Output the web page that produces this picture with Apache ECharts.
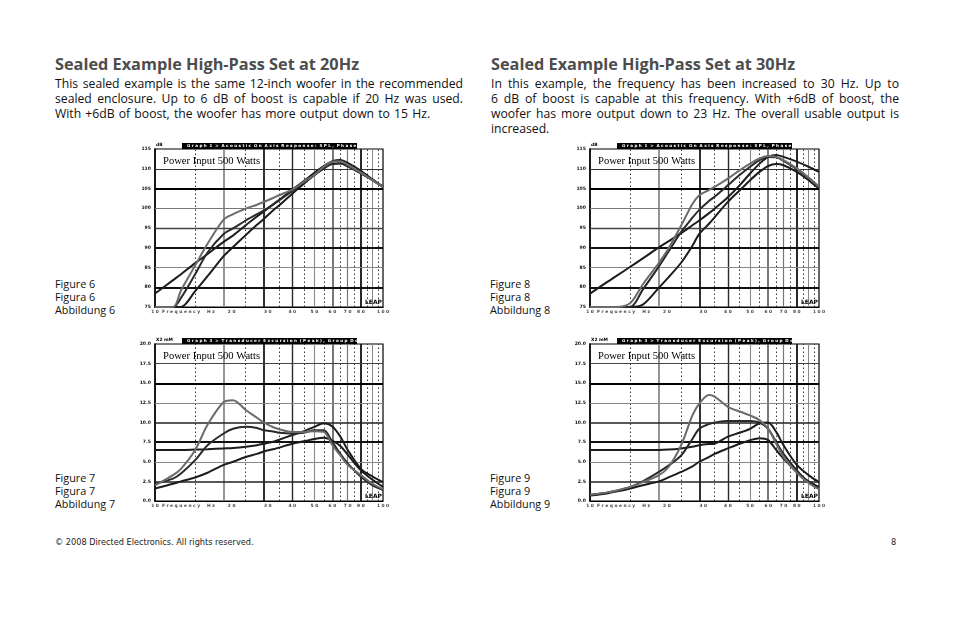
<!DOCTYPE html>
<html><head><meta charset="utf-8">
<script src="https://cdn.jsdelivr.net/npm/echarts@6/dist/echarts.min.js"></script>
<style>
body{margin:0;background:#fff;width:954px;height:618px;overflow:hidden;position:relative;font-family:"Open Sans",sans-serif;}
#chart{position:absolute;left:0;top:0;width:954px;height:618px;}
.h{position:absolute;font-weight:700;color:#4d4d4d;font-size:16.3px;line-height:18px;white-space:nowrap;}
.p{position:absolute;width:408px;font-size:12.2px;word-spacing:1px;line-height:15px;color:#111;}
.p div{text-align:justify;text-align-last:justify;white-space:nowrap;}
.p div.last{text-align:left;text-align-last:left;}
.f{position:absolute;font-size:10.8px;line-height:13px;color:#111;}
.foot{position:absolute;font-size:9.1px;color:#222;font-family:"DejaVu Sans Condensed","DejaVu Sans",sans-serif;}
</style></head>
<body>
<div class="h" style="left:55px;top:55px">Sealed Example High-Pass Set at 20Hz</div>
<div class="p" style="left:55px;top:76px">
<div>This sealed example is the same 12-inch woofer in the recommended</div>
<div>sealed enclosure. Up to 6 dB of boost is capable if 20 Hz was used.</div>
<div class="last">With +6dB of boost, the woofer has more output down to 15 Hz.</div>
</div>
<div class="h" style="left:491px;top:55px">Sealed Example High-Pass Set at 30Hz</div>
<div class="p" style="left:491px;top:76px">
<div>In this example, the frequency has been increased to 30 Hz. Up to</div>
<div>6 dB of boost is capable at this frequency. With +6dB of boost, the</div>
<div>woofer has more output down to 23 Hz. The overall usable output is</div>
<div class="last">increased.</div>
</div>
<div class="f" style="left:55px;top:277px">Figure 6<br>Figura 6<br>Abbildung 6</div>
<div class="f" style="left:55px;top:471px">Figure 7<br>Figura 7<br>Abbildung 7</div>
<div class="f" style="left:490px;top:277px">Figure 8<br>Figura 8<br>Abbildung 8</div>
<div class="f" style="left:490px;top:471px">Figure 9<br>Figura 9<br>Abbildung 9</div>
<div class="foot" style="left:55px;top:537px">© 2008 Directed Electronics. All rights reserved.</div>
<div class="foot" style="left:891px;top:537px">8</div>
<div id="chart"></div>
<script>
// ---------------- data ----------------
const freq = [10,12,13,15,17,20,22,25,28,30,33,35,40,45,50,55,60,65,70,80,90,100];

// Figure 6: SPL (dB), high-pass at 20 Hz
const spl20Gray  = [75,75,79.2,85.5,91,97.1,98.5,99.9,100.9,101.6,102.6,103.3,104.7,106.7,108.5,110.5,111.8,111.9,111,109,107.1,105.4];
const spl20Knee  = [75,75,77.3,83.3,88.8,93.5,94.9,96.9,98.5,99.4,100.9,102,104.4,106.5,108.4,110.1,111.3,111.4,110.8,108.9,107.1,105.4];
const spl20Low   = [75,75,75,79,82.8,87.9,90.2,93.2,95.8,97.3,99.5,100.7,103.7,106.2,108.4,110.1,111.2,111.3,110.6,108.8,107.1,105.4];
const spl20Flat  = [78.4,81.8,83.3,86.1,88.4,91.5,93.1,95.7,97.9,99.2,101,102.1,104.7,106.9,109,110.7,111.9,112.2,111.5,109.5,107.3,105.4];

// Figure 7: excursion (mm), high-pass at 20 Hz
const exc20Gray  = [2.0,3.3,4.1,6.5,9.7,12.6,12.85,11.6,10.6,10.0,9.4,9.15,8.8,8.8,8.9,8.8,7.1,5.8,4.6,3.3,2.2,1.5];
const exc20Knee  = [2.2,2.85,3.5,5.2,7.1,8.6,9.2,9.45,9.3,9.0,8.85,8.7,8.6,8.7,9.0,9.0,7.5,6.0,4.8,3.1,2.0,1.4];
const exc20Flat  = [6.5,6.5,6.5,6.55,6.6,6.7,6.75,6.9,7.1,7.3,7.55,7.8,8.4,8.9,9.45,9.9,9.5,8.2,6.5,4.1,3.1,2.4];
const exc20Low   = [1.6,2.2,2.5,3.0,3.6,4.6,5.0,5.6,6.0,6.3,6.6,6.8,7.3,7.6,7.9,8.05,7.7,7.0,5.9,3.9,2.7,1.8];

// Figure 8: SPL (dB), high-pass at 30 Hz
const spl30Gray  = [75,75,75,76,80.7,86.2,89.8,95.6,101.1,103.3,104.6,105.4,107.5,109.6,111.3,112.6,113.2,113,112.2,110.1,107.8,105.4];
const spl30Knee  = [75,75,75,75,79.4,85.3,89,94,97.6,99.6,101.8,102.9,105.8,108.4,110.5,112.2,113,112.9,112,109.9,107.7,105.4];
const spl30Low   = [75,75,75,75,75.6,79.9,82.5,86.2,90.5,93.5,96,97.7,101.6,104.5,107.1,109.2,110.7,111.2,110.9,109.2,107.1,105];
const spl30Flat  = [78.4,81.5,82.8,85.2,87.3,90.1,91.6,93.7,95.7,96.9,98.7,99.9,102.8,105.8,108.8,111.3,113,113.5,113,111.8,110.5,109.2];

// Figure 9: excursion (mm), high-pass at 30 Hz
const exc30Gray  = [0.8,1.1,1.3,1.8,2.4,3.3,4.3,7.1,10.9,12.4,13.5,13.3,12.0,11.4,10.9,10.3,9.2,7.3,5.6,3.6,2.3,1.5];
const exc30Knee  = [0.8,1.1,1.3,1.8,2.5,3.7,4.5,5.8,7.9,9.2,9.8,10.0,10.2,10.2,10.2,10.0,9.2,7.5,6.0,3.9,2.4,1.6];
const exc30Flat  = [6.5,6.5,6.5,6.5,6.5,6.5,6.55,6.7,6.9,7.1,7.25,7.3,8.2,8.7,9.2,9.9,10.0,8.8,7.1,4.6,3.3,2.4];
const exc30Low   = [0.7,1.0,1.2,1.6,2.0,2.5,3.0,3.7,4.4,5.0,5.6,6.0,6.7,7.3,7.75,8.0,7.75,6.5,5.4,3.7,2.5,1.8];

// axis ticks / labels
const xTickFreq = [10,20,30,40,50,60,70,80,100];
const xTickText = ['1 0','2 0','3 0','4 0','5 0','6 0','7 0','8 0','1 0 0'];
const xNameFreq = [13.0,17.6];
const xNameText = ['F r e q u e n c y','H z'];
const solidGridFreq  = [20,30,40,50,60,70,80,90];
const dottedGridFreq = [15,25,35,45,55,65,75,85,95];
const splGridLines = [80,85,90,95,100,105,110];
const excGridLines = [2.5,5,7.5,10,12.5,15,17.5];
const splTitle = 'G r a p h  1  >  A c o u s t i c  O n  A x i s  R e s p o n s e :  S P L ,  P h a s e';
const excTitle = 'G r a p h  3  >  T r a n s d u c e r  E x c u r s i o n  ( P e a k ) ,  G r o u p  D e l a y';
const powerText = 'Power Input 500 Watts';

// ---------------- styles (not data) ----------------
const vStyle = {20:[1.8,'#8a8a8a'],30:[1.8,'#1a1a1a'],40:[1.4,'#2a2a2a'],50:[1.1,'#8a8a8a'],60:[1.6,'#555'],70:[1.2,'#777'],80:[1.8,'#111'],90:[1.0,'#888']};
const hSplStyle = {110:[1.2,'#333'],105:[2.0,'#000'],100:[1.1,'#777'],95:[1.3,'#444'],90:[1.8,'#111'],85:[1.1,'#888'],80:[1.8,'#111']};
const hExcStyle = {17.5:[1.2,'#444'],15:[2.0,'#000'],12.5:[1.1,'#888'],10:[1.6,'#222'],7.5:[1.8,'#111'],5:[1.2,'#888'],2.5:[1.5,'#222']};
const labelShift = {20:8,30:4};
const GRAY = '#6b6b6b', DARK = '#1c1c1c';

const panels = [
  {grid:{left:155,top:149,width:228,height:158}, kind:'spl', curves:[[spl20Flat,DARK],[spl20Low,DARK],[spl20Knee,'#2a2a2a'],[spl20Gray,GRAY]]},
  {grid:{left:155,top:344,width:228,height:157}, kind:'exc', curves:[[exc20Low,DARK],[exc20Flat,DARK],[exc20Knee,'#2a2a2a'],[exc20Gray,GRAY]]},
  {grid:{left:590,top:149,width:229,height:158}, kind:'spl', curves:[[spl30Flat,DARK],[spl30Low,DARK],[spl30Knee,'#2a2a2a'],[spl30Gray,GRAY]]},
  {grid:{left:590,top:344,width:229,height:157}, kind:'exc', curves:[[exc30Low,DARK],[exc30Flat,DARK],[exc30Knee,'#2a2a2a'],[exc30Gray,GRAY]]}
];

const option = {animation:false, backgroundColor:'transparent', grid:[], xAxis:[], yAxis:[], series:[], graphic:[]};

panels.forEach((p,gi)=>{
  const spl = p.kind==='spl';
  const yMin = spl?75:0, yMax = spl?115:20, step = spl?5:2.5;
  option.grid.push(Object.assign({show:true,borderColor:'#000',borderWidth:1.2,backgroundColor:'transparent'},p.grid));
  option.xAxis.push({type:'log',logBase:10,min:10,max:100,gridIndex:gi,
    axisLine:{show:true,lineStyle:{color:'#000',width:1.2}},axisTick:{show:false},axisLabel:{show:false},splitLine:{show:false},minorSplitLine:{show:false}});
  option.yAxis.push({type:'value',min:yMin,max:yMax,interval:step,gridIndex:gi,
    axisLine:{show:true,lineStyle:{color:'#000',width:1.5}},axisTick:{show:false},splitLine:{show:false},
    axisLabel:{fontSize:4.6,fontWeight:'bold',color:'#111',margin:4,fontFamily:'DejaVu Sans',
      formatter:v=> spl? String(v) : v.toFixed(1)}});
  const hLines = spl?splGridLines:excGridLines;
  const hStyle = spl?hSplStyle:hExcStyle;
  const mlData = [];
  dottedGridFreq.forEach(f=>mlData.push({xAxis:f,lineStyle:{type:[1.5,2.5],color:'#333',width:1}}));
  solidGridFreq.forEach(f=>mlData.push({xAxis:f,lineStyle:{type:'solid',color:vStyle[f][1],width:vStyle[f][0]}}));
  hLines.forEach(v=>mlData.push({yAxis:v,lineStyle:{type:'solid',color:hStyle[v][1],width:hStyle[v][0]}}));
  const lab = xTickFreq.map((f,i)=>({value:[f,yMin],name:xTickText[i],label:{offset:[labelShift[f]||0,0]}}))
     .concat(xNameFreq.map((f,i)=>({value:[f,yMin],name:xNameText[i]})));
  option.series.push({type:'scatter',xAxisIndex:gi,yAxisIndex:gi,symbolSize:0.01,z:1,silent:true,clip:false,
    data:lab,
    label:{show:true,position:'bottom',distance:2.5,formatter:d=>d.name,fontSize:4.4,fontWeight:'bold',color:'#111',fontFamily:'DejaVu Sans'},
    markLine:{silent:true,symbol:['none','none'],label:{show:false},animation:false,data:mlData}});
  p.curves.forEach(([vals,color])=>{
    option.series.push({type:'line',xAxisIndex:gi,yAxisIndex:gi,smooth:0.3,showSymbol:false,clip:true,z:5,silent:true,
      data:freq.map((f,i)=>[f,vals[i]]),lineStyle:{width:2,color:color}});
  });
  const L = p.grid.left, T = p.grid.top, W = p.grid.width, H = p.grid.height;
  option.graphic.push({type:'rect',left:L+27,top:T-6,shape:{width:175,height:6},style:{fill:'#000'},z:10});
  option.graphic.push({type:'text',left:L+32,top:T-5.4,style:{text:spl?splTitle:excTitle,fill:'#fff',fontSize:4.1,fontWeight:'bold',fontFamily:'DejaVu Sans'},z:11});
  option.graphic.push({type:'text',left:L+1,top:T-6,style:{text:spl?'dB':'X2 mM',fill:'#000',fontSize:4.4,fontWeight:'bold',fontFamily:'DejaVu Sans'},z:11});
  option.graphic.push({type:'text',left:L+8,top:T+6.5,style:{text:powerText,fill:'#000',fontSize:10.6,fontFamily:'Liberation Serif'},z:11});
  option.graphic.push({type:'text',right:954-(L+W)+1,top:T+H-8,style:{text:'LEAP',fill:'#000',fontSize:6,fontWeight:'bold',fontFamily:'DejaVu Sans'},z:11});
});

const chart = echarts.init(document.getElementById('chart'));
chart.setOption(option);
</script>
</body></html>
